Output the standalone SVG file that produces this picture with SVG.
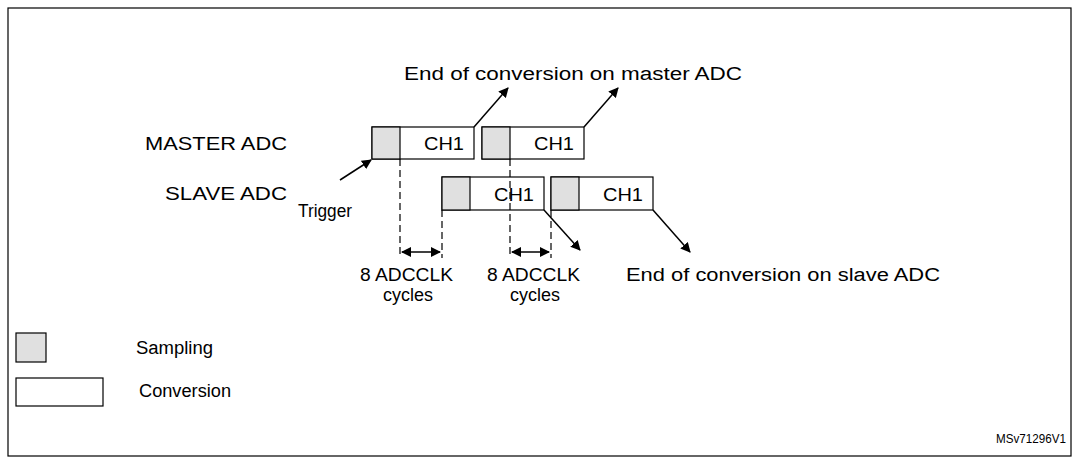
<svg xmlns="http://www.w3.org/2000/svg" width="1079" height="464" viewBox="0 0 1079 464">
<style>
text{font-family:"Liberation Sans",Arial,sans-serif;font-size:18px;fill:#000}
.b{fill:#fff;stroke:#000;stroke-width:1.2}
.s{fill:#e0e0e0;stroke:#000;stroke-width:1.2}
.d{stroke:#000;stroke-width:1.2;stroke-dasharray:7,4;fill:none}
.a{stroke:#000;stroke-width:1.5;fill:none}
</style>
<defs>
<marker id="ah" markerWidth="10" markerHeight="10" refX="9" refY="5" orient="auto-start-reverse" markerUnits="userSpaceOnUse"><path d="M0,0L10,5L0,10z" fill="#000"/></marker>
</defs>
<rect x="8" y="8" width="1063" height="448" fill="#fff" stroke="#000" stroke-width="1.2"/>
<text x="145" y="150" textLength="142" lengthAdjust="spacingAndGlyphs">MASTER ADC</text>
<text x="165" y="200" textLength="122" lengthAdjust="spacingAndGlyphs">SLAVE ADC</text>
<text x="404" y="80" textLength="338" lengthAdjust="spacingAndGlyphs">End of conversion on master ADC</text>
<text x="298" y="217" textLength="54" lengthAdjust="spacingAndGlyphs">Trigger</text>
<g id="m1"><rect class="b" x="372" y="127" width="102" height="32"/><rect class="s" x="372" y="127" width="28" height="32"/><text x="424" y="150" textLength="40" lengthAdjust="spacingAndGlyphs">CH1</text></g>
<g id="m2"><rect class="b" x="482" y="127" width="102" height="32"/><rect class="s" x="482" y="127" width="28" height="32"/><text x="534" y="150" textLength="40" lengthAdjust="spacingAndGlyphs">CH1</text></g>
<g id="s1"><rect class="b" x="442" y="177" width="102" height="33"/><rect class="s" x="442" y="177" width="28" height="33"/><text x="494" y="201" textLength="40" lengthAdjust="spacingAndGlyphs">CH1</text></g>
<g id="s2"><rect class="b" x="551" y="177" width="102" height="33"/><rect class="s" x="551" y="177" width="28" height="33"/><text x="603" y="201" textLength="40" lengthAdjust="spacingAndGlyphs">CH1</text></g>
<g id="connectors">
<path class="d" d="M400,159V258M442,210V258M510,159V258M551,210V258"/>
<path class="a" d="M402,252H440" marker-start="url(#ah)" marker-end="url(#ah)"/>
<path class="a" d="M512,252H549" marker-start="url(#ah)" marker-end="url(#ah)"/>
<path class="a" d="M474,127L508,88" marker-end="url(#ah)"/>
<path class="a" d="M584,127L618,88" marker-end="url(#ah)"/>
<path class="a" d="M544,210L580,250" marker-end="url(#ah)"/>
<path class="a" d="M653,210L690,252" marker-end="url(#ah)"/>
<path class="a" d="M340,180L371,160" marker-end="url(#ah)"/>
</g>
<text x="360" y="281" textLength="93" lengthAdjust="spacingAndGlyphs">8 ADCCLK</text>
<text x="383" y="301" textLength="50" lengthAdjust="spacingAndGlyphs">cycles</text>
<text x="487" y="281" textLength="93" lengthAdjust="spacingAndGlyphs">8 ADCCLK</text>
<text x="510" y="301" textLength="50" lengthAdjust="spacingAndGlyphs">cycles</text>
<text x="626" y="281" textLength="314" lengthAdjust="spacingAndGlyphs">End of conversion on slave ADC</text>
<g id="legend">
<rect class="s" x="16" y="333" width="30" height="29"/>
<rect class="b" x="16" y="378" width="87" height="28"/>
<text x="136" y="354" textLength="77" lengthAdjust="spacingAndGlyphs">Sampling</text>
<text x="139" y="397" textLength="92" lengthAdjust="spacingAndGlyphs">Conversion</text>
</g>
<text x="996" y="443" textLength="70" lengthAdjust="spacingAndGlyphs" style="font-size:13px">MSv71296V1</text>
</svg>
